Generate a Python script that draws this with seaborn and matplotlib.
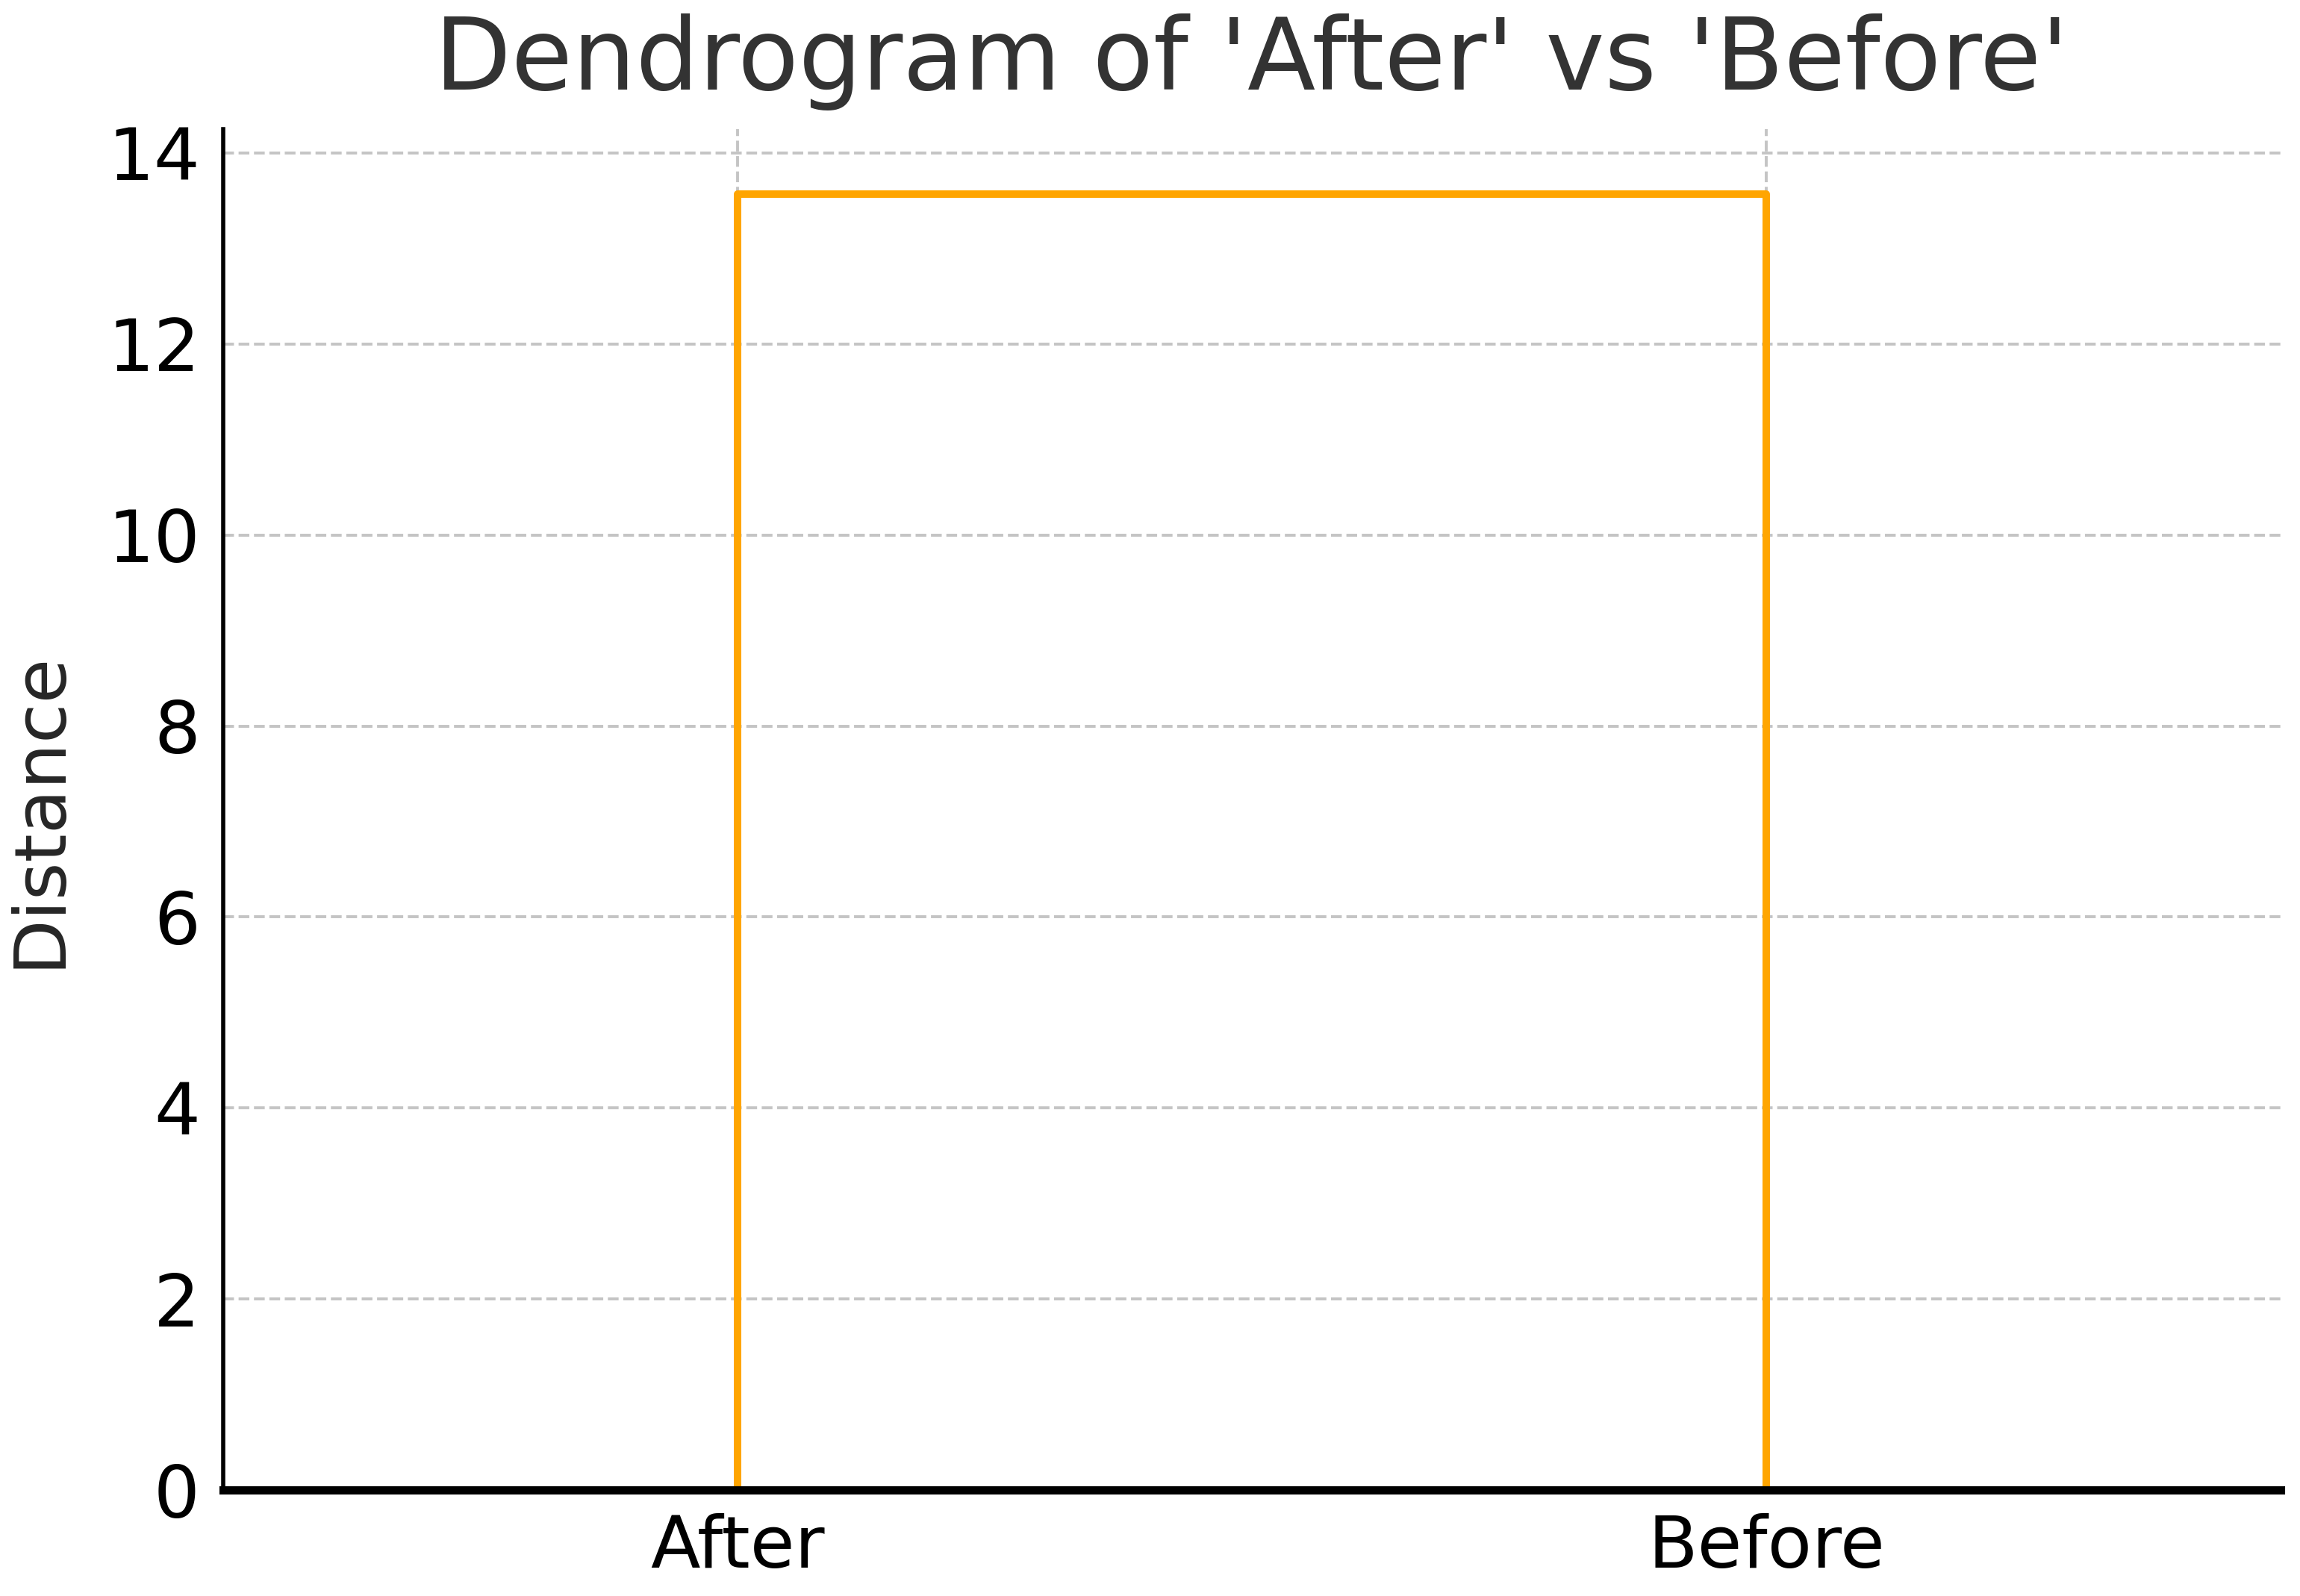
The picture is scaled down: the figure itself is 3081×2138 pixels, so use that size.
import numpy as np
import pandas as pd
import matplotlib
matplotlib.use("Agg")
import matplotlib.pyplot as plt
import seaborn as sns

# Leaves and the single merge height
leaf_labels = ["After", "Before"]
merge_height = 13.57

sns.set_style("whitegrid")
plt.rcParams["font.family"] = ["DejaVu Sans"]

# scipy-style leaf positions: 5, 15, ...
leaf_pos = [5 + 10 * i for i in range(len(leaf_labels))]
link = pd.DataFrame({
    "x": [leaf_pos[0], leaf_pos[0], leaf_pos[1], leaf_pos[1]],
    "y": [0, merge_height, merge_height, 0],
})

fig = plt.figure(figsize=(15.405, 10.69), dpi=200)
ax = fig.add_axes([0.0969, 0.0664, 0.8947, 0.8526])

sns.lineplot(data=link, x="x", y="y", sort=False, estimator=None,
             color="#FFA500", linewidth=3.6, ax=ax)

ax.set_xlim(0, 10 * len(leaf_labels))
ax.set_ylim(0, merge_height * 1.05)
ax.set_xticks(leaf_pos)
ax.set_xticklabels(leaf_labels)
ax.set_yticks(np.arange(0, 15, 2))

ax.set_title("Dendrogram of 'After' vs 'Before'", fontsize=48, color="#333333", pad=19)
ax.set_xlabel("")
ax.set_ylabel("Distance", fontsize=35, labelpad=16)
ax.tick_params(axis="both", labelsize=35, colors="black", direction="in",
               length=10, width=2, pad=11)
ax.tick_params(axis="x", length=0, pad=11)

ax.grid(True, linestyle="--", color="#c4c4c4", linewidth=1.4)
ax.set_axisbelow(True)
for s in ["top", "right"]:
    ax.spines[s].set_visible(False)
ax.spines["left"].set_color("black")
ax.spines["left"].set_linewidth(2)
ax.spines["bottom"].set_color("black")
ax.spines["bottom"].set_linewidth(4)

fig.savefig("out.png", dpi=200)
